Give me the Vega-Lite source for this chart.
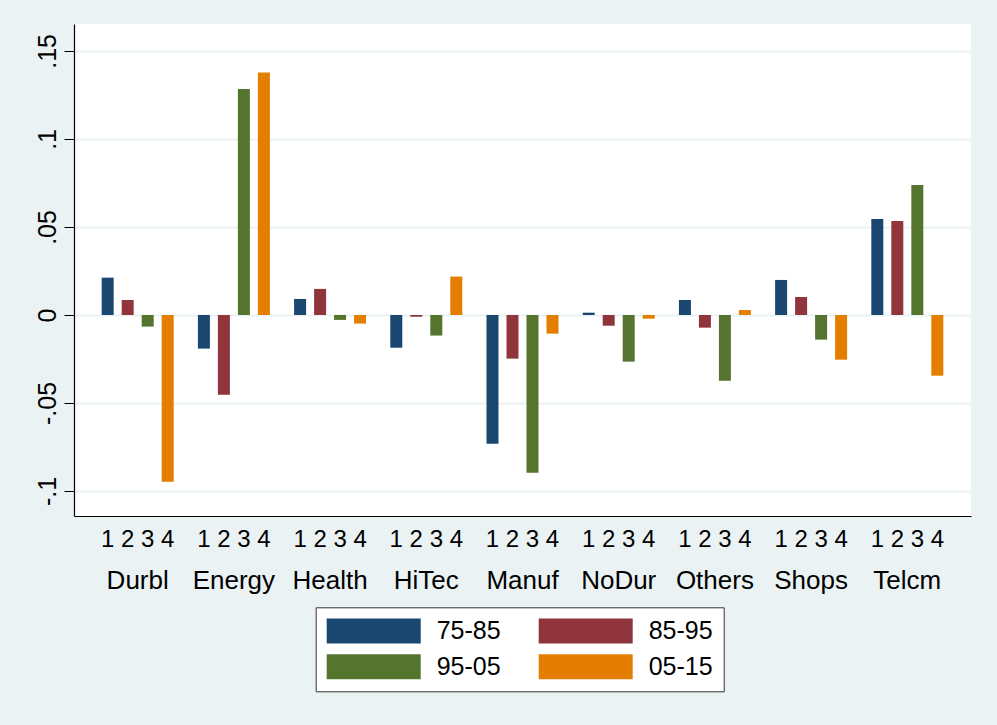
{
  "$schema": "https://vega.github.io/schema/vega-lite/v6.json",
  "width": 897,
  "height": 492,
  "autosize": {"type": "none"},
  "padding": {"left": 74, "top": 24, "right": 26, "bottom": 209},
  "background": "#eaf2f3",
  "config": {
    "view": {"stroke": null, "fill": "white"},
    "font": "Liberation Sans"
  },
  "data": {
    "values": [
      {"industry": "Durbl", "period": "75-85", "num": 1, "value": 0.0212},
      {"industry": "Durbl", "period": "85-95", "num": 2, "value": 0.0085},
      {"industry": "Durbl", "period": "95-05", "num": 3, "value": -0.0066},
      {"industry": "Durbl", "period": "05-15", "num": 4, "value": -0.0947},
      {"industry": "Energy", "period": "75-85", "num": 1, "value": -0.0191},
      {"industry": "Energy", "period": "85-95", "num": 2, "value": -0.0453},
      {"industry": "Energy", "period": "95-05", "num": 3, "value": 0.1284},
      {"industry": "Energy", "period": "05-15", "num": 4, "value": 0.1377},
      {"industry": "Health", "period": "75-85", "num": 1, "value": 0.0091},
      {"industry": "Health", "period": "85-95", "num": 2, "value": 0.0148},
      {"industry": "Health", "period": "95-05", "num": 3, "value": -0.0028},
      {"industry": "Health", "period": "05-15", "num": 4, "value": -0.0049},
      {"industry": "HiTec", "period": "75-85", "num": 1, "value": -0.0186},
      {"industry": "HiTec", "period": "85-95", "num": 2, "value": -0.001},
      {"industry": "HiTec", "period": "95-05", "num": 3, "value": -0.0117},
      {"industry": "HiTec", "period": "05-15", "num": 4, "value": 0.0218},
      {"industry": "Manuf", "period": "75-85", "num": 1, "value": -0.0731},
      {"industry": "Manuf", "period": "85-95", "num": 2, "value": -0.0248},
      {"industry": "Manuf", "period": "95-05", "num": 3, "value": -0.0896},
      {"industry": "Manuf", "period": "05-15", "num": 4, "value": -0.0106},
      {"industry": "NoDur", "period": "75-85", "num": 1, "value": 0.0013},
      {"industry": "NoDur", "period": "85-95", "num": 2, "value": -0.0061},
      {"industry": "NoDur", "period": "95-05", "num": 3, "value": -0.0265},
      {"industry": "NoDur", "period": "05-15", "num": 4, "value": -0.0021},
      {"industry": "Others", "period": "75-85", "num": 1, "value": 0.0085},
      {"industry": "Others", "period": "85-95", "num": 2, "value": -0.0072},
      {"industry": "Others", "period": "95-05", "num": 3, "value": -0.0373},
      {"industry": "Others", "period": "05-15", "num": 4, "value": 0.0028},
      {"industry": "Shops", "period": "75-85", "num": 1, "value": 0.0199},
      {"industry": "Shops", "period": "85-95", "num": 2, "value": 0.0102},
      {"industry": "Shops", "period": "95-05", "num": 3, "value": -0.014},
      {"industry": "Shops", "period": "05-15", "num": 4, "value": -0.0254},
      {"industry": "Telcm", "period": "75-85", "num": 1, "value": 0.0545},
      {"industry": "Telcm", "period": "85-95", "num": 2, "value": 0.0534},
      {"industry": "Telcm", "period": "95-05", "num": 3, "value": 0.0739},
      {"industry": "Telcm", "period": "05-15", "num": 4, "value": -0.0345}
    ]
  },
  "encoding": {
    "x": {
      "field": "industry",
      "type": "nominal",
      "sort": null,
      "scale": {"paddingInner": 0, "paddingOuter": 0.162},
      "axis": {
        "title": null,
        "ticks": false,
        "labelAngle": 0,
        "labelFontSize": 26,
        "labelColor": "black",
        "labelPadding": 51,
        "labelBaseline": "top",
        "domainColor": "black",
        "domainWidth": 1.2,
        "grid": false
      }
    },
    "xOffset": {
      "field": "period",
      "type": "nominal",
      "sort": ["75-85", "85-95", "95-05", "05-15"],
      "scale": {"paddingInner": 0.4, "paddingOuter": 0.605}
    }
  },
  "layer": [
    {
      "mark": {"type": "bar"},
      "encoding": {
        "y": {
          "field": "value",
          "type": "quantitative",
          "stack": null,
          "scale": {"domain": [-0.1142, 0.1653], "nice": false, "zero": false},
          "axis": {
            "title": null,
            "values": [-0.1, -0.05, 0, 0.05, 0.1, 0.15],
            "labelExpr": "datum.value == 0 ? '0' : (datum.value < 0 ? '-' : '') + replace(toString(abs(round(datum.value*100)/100)), '0.', '.')",
            "labelAngle": -90,
            "labelAlign": "center",
            "labelBaseline": "alphabetic",
            "labelFontSize": 25,
            "labelColor": "black",
            "labelPadding": 9,
            "tickSize": 10,
            "tickColor": "black",
            "domainColor": "black",
            "domainWidth": 1.2,
            "grid": true,
            "gridColor": "#eaf2f3",
            "gridWidth": 2
          }
        },
        "y2": {"datum": 0},
        "color": {
          "field": "period",
          "type": "nominal",
          "sort": ["75-85", "85-95", "95-05", "05-15"],
          "scale": {
            "domain": ["75-85", "85-95", "95-05", "05-15"],
            "range": ["#1a476f", "#90353b", "#55752f", "#e37e00"]
          },
          "legend": {
            "title": null,
            "orient": "none",
            "legendX": 241.7,
            "legendY": 583.3,
            "direction": "horizontal",
            "columns": 2,
            "columnPadding": 38,
            "rowPadding": 10,
            "padding": 11,
            "fillColor": "white",
            "strokeColor": "#333333",
            "symbolType": "M-1,-1H6.52V1H-1Z",
            "symbolSize": 625,
            "symbolStrokeWidth": 0,
            "symbolOpacity": 1,
            "labelFontSize": 25,
            "labelColor": "black",
            "labelOffset": 85
          }
        }
      }
    },
    {
      "mark": {"type": "text", "baseline": "alphabetic", "align": "center", "fontSize": 24, "color": "black"},
      "encoding": {
        "y": {"datum": -0.1317},
        "text": {"field": "num", "type": "quantitative"}
      }
    }
  ]
}
